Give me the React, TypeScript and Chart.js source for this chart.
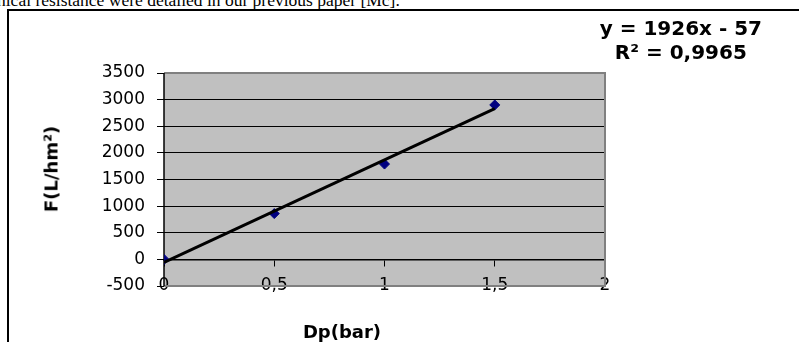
import React, { useEffect, useRef } from "react";
import { Chart, registerables } from "chart.js";

Chart.register(...registerables);

// ---- data ----
const dpBar = [0, 0.5, 1, 1.5];
const fluxValues = [0, 860, 1790, 2900];
const trendX = [0, 1.5];
const trendY = [-57, 2832];
const xMin = 0;
const xMax = 2;
const xStep = 0.5;
const yMin = -500;
const yMax = 3500;
const yStep = 500;
const equationText = "y = 1926x - 57";
const r2Text = "R² = 0,9965";
const xTitle = "Dp(bar)";
const yTitle = "F(L/hm²)";
const topLine = "nical resistance were detailed in our previous paper [Mc].";

const CHART_FONT = "'DejaVu Sans', 'Liberation Sans', Arial, sans-serif";

const plotBg = {
  id: "plotBg",
  beforeDraw(chart: any) {
    const { ctx, chartArea } = chart;
    if (!chartArea) return;
    ctx.save();
    ctx.fillStyle = "#C0C0C0";
    ctx.fillRect(chartArea.left, chartArea.top, chartArea.right - chartArea.left, chartArea.bottom - chartArea.top);
    ctx.restore();
  },
  beforeDatasetsDraw(chart: any) {
    const { ctx, chartArea } = chart;
    ctx.save();
    ctx.strokeStyle = "#808080";
    ctx.lineWidth = 2;
    ctx.beginPath();
    ctx.moveTo(chartArea.left, chartArea.top);
    ctx.lineTo(chartArea.right, chartArea.top);
    ctx.lineTo(chartArea.right, chartArea.bottom);
    ctx.lineTo(chartArea.left, chartArea.bottom);
    ctx.stroke();
    ctx.strokeStyle = "#000";
    ctx.lineWidth = 1.5;
    ctx.beginPath();
    ctx.moveTo(chartArea.left, chartArea.top);
    ctx.lineTo(chartArea.left, chartArea.bottom);
    ctx.stroke();
    ctx.restore();
  },
};

function ChartCanvas() {
  const ref = useRef<HTMLCanvasElement | null>(null);
  useEffect(() => {
    if (!ref.current) return;
    const chart = new Chart(ref.current, {
      type: "scatter",
      data: {
        datasets: [
          {
            type: "line",
            label: "trend",
            data: trendX.map((x, i) => ({ x, y: trendY[i] })),
            borderColor: "#000",
            borderWidth: 3,
            pointRadius: 0,
            fill: false,
            order: 0,
          } as any,
          {
            label: "F",
            data: dpBar.map((x, i) => ({ x, y: fluxValues[i] })),
            pointStyle: "rectRot",
            pointRadius: 5,
            backgroundColor: "#000080",
            borderColor: "#000080",
            borderWidth: 1,
            order: 1,
          },
        ],
      },
      options: {
        animation: false,
        responsive: false,
        maintainAspectRatio: false,
        layout: { padding: { left: 41, top: 73, right: 194, bottom: 56 } },
        plugins: { legend: { display: false }, tooltip: { enabled: false } },
        scales: {
          x: {
            type: "linear",
            position: { y: 0 } as any,
            min: xMin,
            max: xMax,
            ticks: {
              stepSize: xStep,
              color: "#000",
              padding: 10,
              font: { family: CHART_FONT, size: 17 },
              callback: (v: any) => String(v).replace(".", ","),
            },
            grid: { drawOnChartArea: false, drawTicks: true, tickLength: 6, color: "#000" },
            border: { display: true, color: "#000", width: 1.5 },
          },
          y: {
            type: "linear",
            position: "left",
            min: yMin,
            max: yMax,
            afterFit: (scale: any) => {
              scale.width = 123;
            },
            ticks: {
              stepSize: yStep,
              color: "#000",
              padding: 12,
              font: { family: CHART_FONT, size: 17 },
              callback: (v: any) => String(v),
            },
            grid: {
              color: (c: any) => (c.tick && (c.tick.value === yMax || c.tick.value === yMin) ? "#808080" : "#000"),
              tickColor: "#000",
              lineWidth: 1,
              tickLength: 7,
            },
            border: { display: false },
          },
        },
      },
      plugins: [plotBg],
    });
    return () => chart.destroy();
  }, []);
  return <canvas ref={ref} width={799} height={342} style={{ position: "absolute", left: 0, top: 0, width: 799, height: 342 }} />;
}

export default function App() {
  return (
    <div style={{ position: "fixed", left: 0, top: 0, width: 799, height: 342, background: "#fff", overflow: "hidden" }}>
      <div
        style={{
          position: "absolute",
          left: -3,
          top: -10,
          fontFamily: "'Liberation Serif', 'Times New Roman', serif",
          fontSize: 17.5,
          lineHeight: "20px",
          whiteSpace: "nowrap",
          color: "#000",
        }}
      >
        {topLine}
      </div>
      <div
        style={{
          position: "absolute",
          left: 7,
          top: 9,
          width: 900,
          height: 400,
          borderLeft: "2px solid #000",
          borderTop: "2px solid #000",
        }}
      />
      <ChartCanvas />
      <div
        style={{
          position: "absolute",
          right: 37,
          top: 16,
          fontFamily: CHART_FONT,
          fontWeight: "bold",
          fontSize: 20,
          lineHeight: "24px",
          textAlign: "center",
          color: "#000",
          whiteSpace: "nowrap",
        }}
      >
        <div>{equationText}</div>
        <div>{r2Text}</div>
      </div>
      <div
        style={{
          position: "absolute",
          left: 51,
          top: 169,
          transform: "translate(-50%, -50%) rotate(-90deg)",
          fontFamily: CHART_FONT,
          fontWeight: "bold",
          fontSize: 18,
          whiteSpace: "nowrap",
          color: "#000",
        }}
      >
        {yTitle}
      </div>
      <div
        style={{
          position: "absolute",
          left: 342,
          top: 331,
          transform: "translate(-50%, -50%)",
          fontFamily: CHART_FONT,
          fontWeight: "bold",
          fontSize: 18,
          whiteSpace: "nowrap",
          color: "#000",
        }}
      >
        {xTitle}
      </div>
    </div>
  );
}
